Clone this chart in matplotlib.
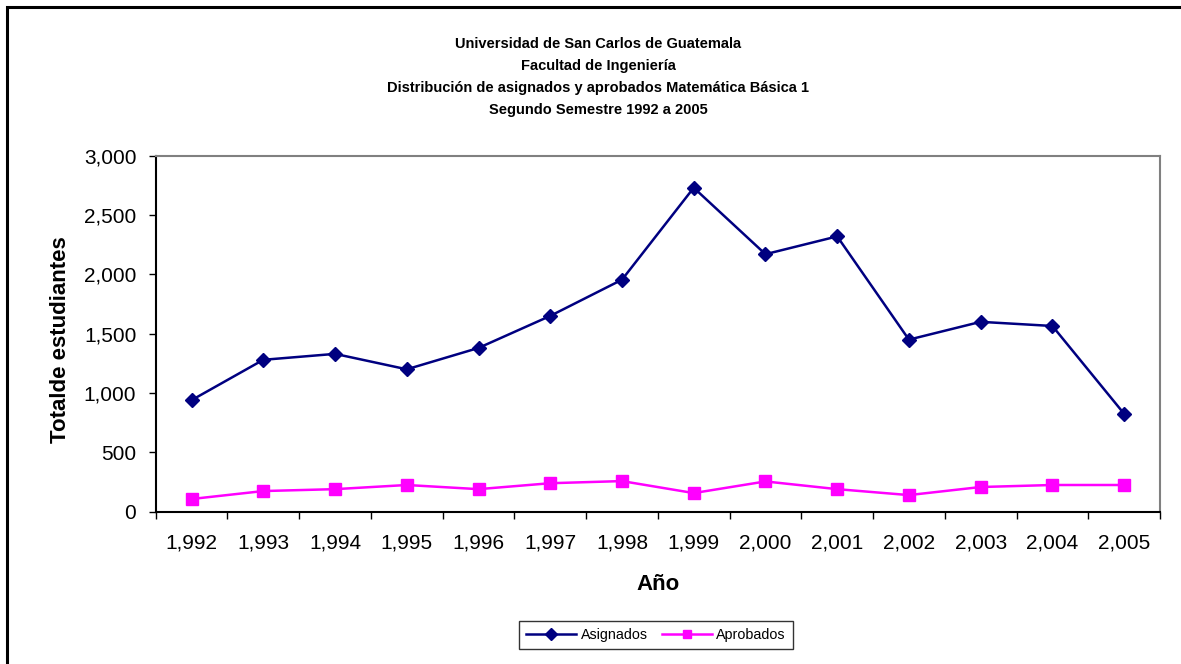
import matplotlib
matplotlib.use("Agg")
import matplotlib.pyplot as plt
from matplotlib.patches import Rectangle
from matplotlib.ticker import FuncFormatter, FixedLocator

plt.rcParams['font.family'] = ['Liberation Sans', 'DejaVu Sans']

years = ["1,992", "1,993", "1,994", "1,995", "1,996", "1,997", "1,998",
         "1,999", "2,000", "2,001", "2,002", "2,003", "2,004", "2,005"]
asignados = [940, 1280, 1330, 1200, 1380, 1650, 1955,
             2730, 2170, 2320, 1450, 1600, 1565, 825]
aprobados = [107, 174, 190, 225, 190, 240, 258,
             157, 255, 190, 140, 208, 225, 225]

title_lines = ["Universidad de San Carlos de Guatemala",
               "Facultad de Ingeniería",
               "Distribución de asignados y aprobados Matemática Básica 1",
               "Segundo Semestre 1992 a 2005"]

W, H = 1181, 664
fig = plt.figure(figsize=(W / 100, H / 100), dpi=100)
fig.patch.set_facecolor("white")

# axes placed in pixel coords of the reference
left, right, top, bottom = 155.7, 1160, 155.7, 511.7
ax = fig.add_axes([left / W, 1 - bottom / H, (right - left) / W, (bottom - top) / H])

x = [i + 0.5 for i in range(len(years))]
ax.plot(x, asignados, color="#000080", lw=1.8, marker="D", ms=7.5, label="Asignados")
ax.plot(x, aprobados, color="#FF00FF", lw=1.8, marker="s", ms=8, label="Aprobados")

ax.set_xlim(0, len(years))
ax.set_ylim(0, 3000)
ax.set_yticks(range(0, 3001, 500))
ax.yaxis.set_major_formatter(FuncFormatter(lambda v, p: f"{int(v):,}"))

# ticks at category edges, labels at centers
ax.xaxis.set_major_locator(FixedLocator(range(len(years) + 1)))
ax.xaxis.set_minor_locator(FixedLocator(x))
ax.set_xticklabels([])
ax.set_xticklabels(years, minor=True)
ax.tick_params(axis="x", which="major", direction="out", length=5, width=1)
ax.tick_params(axis="x", which="minor", length=0, pad=16, labelsize=15)
ax.tick_params(axis="y", direction="out", length=5, width=1, pad=9, labelsize=15)

for s in ["top", "right"]:
    ax.spines[s].set_color("#808080")
    ax.spines[s].set_linewidth(1.5)
for s in ["left", "bottom"]:
    ax.spines[s].set_color("black")
    ax.spines[s].set_linewidth(1.5)

fig.text(658 / W, 1 - 585 / H, "Año", ha="center", va="center",
         fontsize=16, fontweight="bold")
fig.text(60 / W, 1 - 340 / H, "Totalde estudiantes", ha="center", va="center",
         rotation=90, fontsize=16, fontweight="bold")

for i, line in enumerate(title_lines):
    fig.text(598 / W, 1 - (44 + 22 * i) / H, line, ha="center", va="center",
             fontsize=10.5, fontweight="bold")

leg = fig.legend(loc="center", bbox_to_anchor=(656 / W, 1 - 635 / H), ncol=2,
                 fontsize=10.3, frameon=True, fancybox=False, handlelength=3.5,
                 columnspacing=1.0, handletextpad=0.3, borderpad=0.5,
                 markerscale=0.8)
leg.get_frame().set_edgecolor("black")
leg.get_frame().set_linewidth(1.0)

# outer chart border (only left and top visible in the reference)
fig.add_artist(Rectangle((7 / W, -0.1), 2, (1 - 7 / H) + 0.1,
                         transform=fig.transFigure, fill=False,
                         edgecolor="black", lw=2.2))

fig.savefig("out.png", dpi=100)
